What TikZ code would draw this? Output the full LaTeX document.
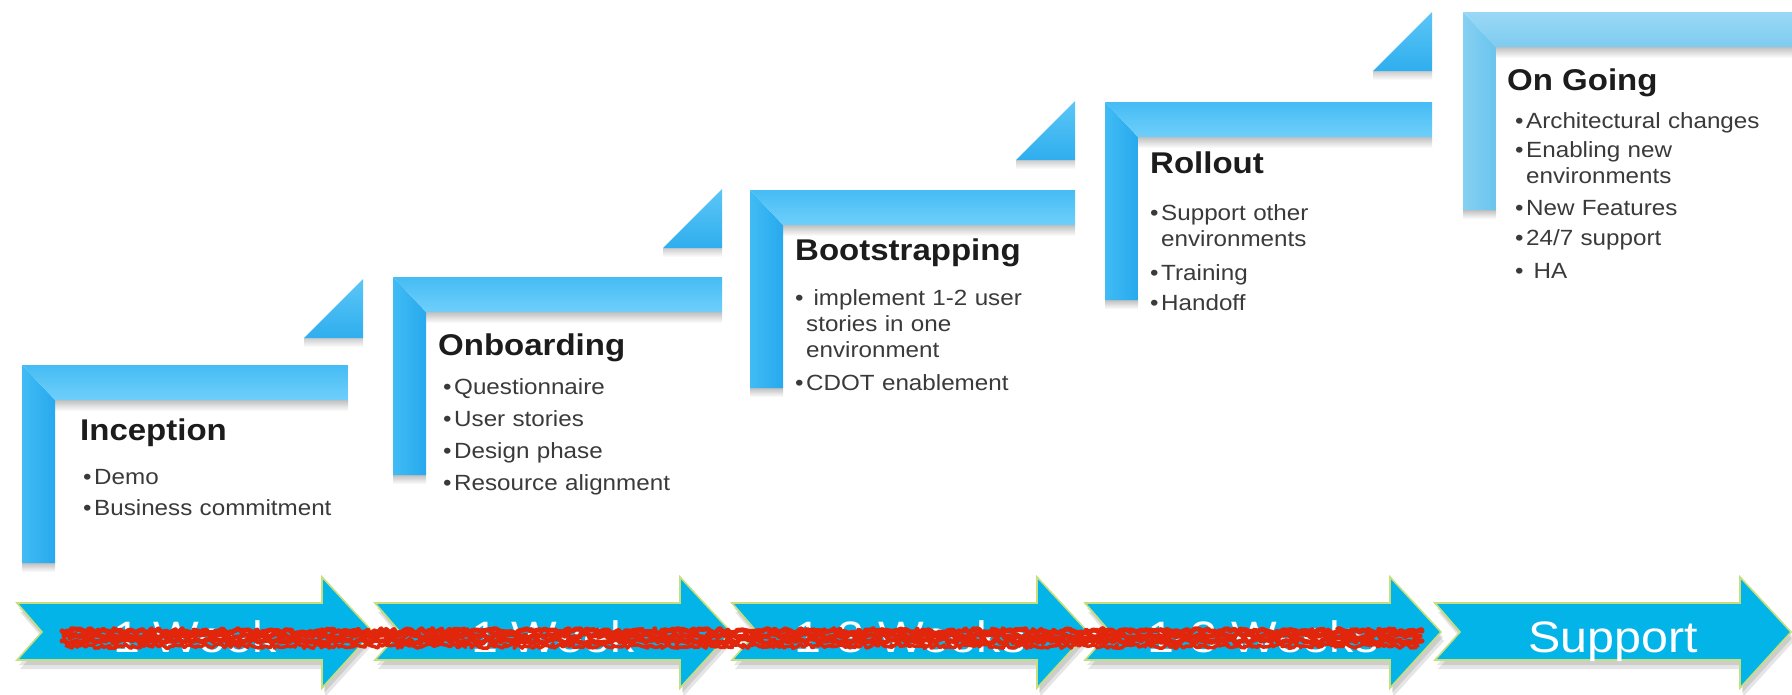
\documentclass[tikz,border=0pt]{standalone}
\usepackage{fontspec}
\setmainfont[FakeStretch=1.1]{Liberation Sans}
\usetikzlibrary{decorations.pathmorphing}
\definecolor{vlA}{HTML}{40BBF4}
\definecolor{vrA}{HTML}{28A9EE}
\definecolor{htA}{HTML}{45BCF4}
\definecolor{hbA}{HTML}{6FCFFB}
\definecolor{vlB}{HTML}{86D0F2}
\definecolor{vrB}{HTML}{6AC4EE}
\definecolor{htB}{HTML}{9AD8F5}
\definecolor{hbB}{HTML}{7ECCF0}
\definecolor{triA}{HTML}{5CC6F6}
\definecolor{triB}{HTML}{2FAEEE}
\definecolor{arrowfill}{HTML}{03B4E8}
\definecolor{arrowline}{HTML}{C6DF7C}
\definecolor{scribred}{HTML}{E1260C}
\definecolor{titlecol}{HTML}{1C1C1C}
\definecolor{bulletcol}{HTML}{3A3A3A}
\newcommand\bl[1]{\makebox[11pt][l]{\textbullet}#1}
\newcommand\ct[1]{\hspace*{11pt}#1}
% L-shaped step: x, y, width, colour set
\newcommand\drawstep[4]{%
  \shade[top color=black!45, bottom color=white, opacity=0.55] (#1+33,#2+35) rectangle (#1+#3,#2+46);
  \shade[top color=black!45, bottom color=white, opacity=0.55] (#1,#2+198) rectangle (#1+33,#2+207);
  \shade[left color=vl#4, right color=vr#4] (#1,#2) -- (#1+33,#2+35) -- (#1+33,#2+198) -- (#1,#2+198) -- cycle;
  \shade[top color=ht#4, bottom color=hb#4] (#1,#2) -- (#1+#3,#2) -- (#1+#3,#2+35) -- (#1+33,#2+35) -- cycle;
}
% triangle: right x, bottom y
\newcommand\drawtri[2]{%
  \shade[top color=black!40, bottom color=white, opacity=0.5] (#1-59,#2) rectangle (#1,#2+9);
  \shade[top color=triA, bottom color=triB] (#1-59,#2) -- (#1,#2-59) -- (#1,#2) -- cycle;
}
% arrow: tail x, label, name
\newcommand\drawarrow[3]{%
  \fill[black, opacity=0.10, shift={(2,5)}] (#1,603) -- (#1+305,603) -- (#1+305,577) -- (#1+356,632) -- (#1+305,688) -- (#1+305,660) -- (#1,660) -- (#1+25,632) -- cycle;
  \fill[black, opacity=0.10, shift={(3,9)}] (#1,603) -- (#1+305,603) -- (#1+305,577) -- (#1+356,632) -- (#1+305,688) -- (#1+305,660) -- (#1,660) -- (#1+25,632) -- cycle;
  \filldraw[fill=arrowfill, draw=arrowline, line width=1.6pt, line join=miter] (#1,603) -- (#1+305,603) -- (#1+305,577) -- (#1+356,632) -- (#1+305,688) -- (#1+305,660) -- (#1,660) -- (#1+25,632) -- cycle;
  \node[arrowtext] (#3) at (#1+178,652) {#2};
}
\begin{document}
\begin{tikzpicture}[x=1pt, y=-1pt,
  title/.style={anchor=base west, inner sep=0pt, text=titlecol, font=\fontsize{30}{34}\selectfont\bfseries},
  blist/.style={anchor=base west, inner sep=0pt, text=bulletcol, text width=300pt, align=left, font=\fontsize{22}{26}\selectfont},
  arrowtext/.style={anchor=base, inner sep=0pt, text=white, font=\fontsize{44}{48}\selectfont},
  scribble/.style={draw=scribred, line width=5pt, line join=round, line cap=round, decorate, decoration={random steps, segment length=2.5pt, amplitude=2.4pt}}
]
\useasboundingbox (0,0) rectangle (1792,694);
\fill[white] (0,0) rectangle (1792,694);

% steps
\drawstep{22}{365}{326}{A}
\drawstep{393}{277}{329}{A}
\drawstep{750}{190}{325}{A}
\drawstep{1105}{102}{327}{A}
\drawstep{1463}{12}{340}{B}

% triangles
\drawtri{363}{338}
\drawtri{722}{248}
\drawtri{1075}{160}
\drawtri{1432}{71}

% step texts
\node[title] (t1) at (80,440) {Inception};
\node[blist] (b1) at (83,484) {\bl{Demo}\\[5pt]\bl{Business commitment}};

\node[title] (t2) at (438,355) {Onboarding};
\node[blist] (b2) at (443,394) {\bl{Questionnaire}\\[6pt]\bl{User stories}\\[6pt]\bl{Design phase}\\[6pt]\bl{Resource alignment}};

\node[title] (t3) at (795,260) {Bootstrapping};
\node[blist] (b3) at (795,305) {\bl{\ implement 1-2 user}\\\ct{stories in one}\\\ct{environment}\\[7pt]\bl{CDOT enablement}};

\node[title] (t4) at (1150,173) {Rollout};
\node[blist] (b4) at (1150,220) {\bl{Support other}\\\ct{environments}\\[8pt]\bl{Training}\\[4pt]\bl{Handoff}};

\node[title] (t5) at (1507,90) {On Going};
\node[blist] (b5) at (1515,128) {\bl{Architectural changes}\\[3pt]\bl{Enabling new}\\\ct{environments}\\[6pt]\bl{New Features}\\[4pt]\bl{24/7 support}\\[7pt]\bl{\ HA}};

% bottom arrows
\drawarrow{17}{1 Week}{a1}
\drawarrow{375}{1 Week}{a2}
\drawarrow{732}{1-3 Weeks}{a3}
\drawarrow{1085}{1-3 Weeks}{a4}
\drawarrow{1435}{Support}{a5}

% red scribble
\pgfmathsetseed{42}
\coordinate (s1a) at (62,631);  \coordinate (s1b) at (1422,631);
\coordinate (s2a) at (64,636);  \coordinate (s2b) at (1420,636);
\coordinate (s3a) at (62,641);  \coordinate (s3b) at (1422,641);
\coordinate (s4a) at (66,646);  \coordinate (s4b) at (1418,646);
\path[scribble] (s1a) -- (s1b);
\path[scribble] (s2a) -- (s2b);
\path[scribble] (s3a) -- (s3b);
\path[scribble, line width=3.5pt] (s4a) -- (s4b);
\end{tikzpicture}
\end{document}
